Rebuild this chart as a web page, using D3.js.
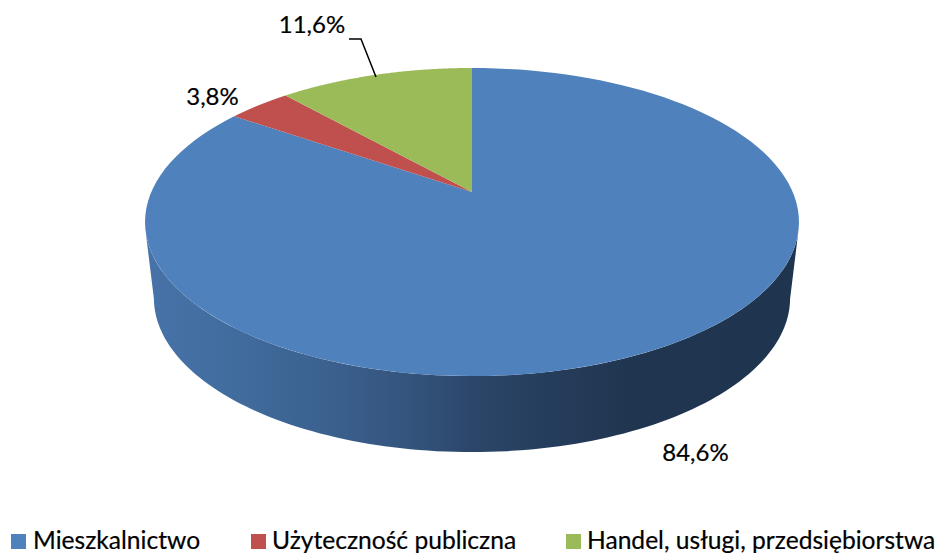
<!DOCTYPE html>
<html><head><meta charset="utf-8">
<script src="https://cdnjs.cloudflare.com/ajax/libs/d3/7.9.0/d3.min.js"></script>
<style>html,body{margin:0;padding:0;background:#fff;overflow:hidden}svg{display:block}text{font-family:Lato,"Noto Sans",sans-serif;fill:#000;stroke:#000;stroke-width:.2}</style>
</head><body><svg id="c" width="938" height="553"></svg>
<script>
const categories = ["Mieszkalnictwo", "Użyteczność publiczna", "Handel, usługi, przedsiębiorstwa"];
const values = [84.6, 3.8, 11.6];
const valueLabels = ["84,6%", "3,8%", "11,6%"];
const colors = ["#4f81bd", "#c0504d", "#9bbb59"];

const svg = d3.select("#c");
const color = d3.scaleOrdinal(categories, colors);
const pie = d3.pie().sort(null).value(d => d.v)(categories.map((c, i) => ({c, v: values[i], l: valueLabels[i]})));

// perspective projection of the pie's unit circle onto the screen
const P = 0.195;
const project = (cx, cy, A, B) => t => {
  const u = Math.sin(t), v = Math.cos(t), w = 1 + P * v;
  return [cx + A * u / w, cy - B * v / w];
};
const top3d = project(472, 192, 320.7, 148.2);
const base3d = project(472, 268, 312, 148.2);
const line = d3.line();
const sweep = (f, a, b) => d3.range(0, 121).map(i => f(a + (b - a) * i / 120));

// side wall
const grad = svg.append("defs").append("linearGradient").attr("id", "side")
  .attr("gradientUnits", "userSpaceOnUse").attr("x1", 145).attr("x2", 799).attr("y1", 0).attr("y2", 0);
[[0, "#4773a9"], [0.15, "#406b9c"], [0.3, "#3a5f8c"], [0.42, "#33527a"], [0.5, "#2c4669"], [0.62, "#253d5c"], [0.75, "#20354f"], [1, "#1f344e"]]
  .forEach(([o, c]) => grad.append("stop").attr("offset", o).attr("stop-color", c));
const tL = Math.PI * 1.5 - 0.25, tR = Math.PI / 2 + 0.25;
const tLb = Math.PI * 1.5 - 0.2, tRb = Math.PI / 2 + 0.2;
const wall = sweep(top3d, tL, tR).concat(sweep(base3d, tRb, tLb));
svg.append("path").attr("d", line(wall) + "Z").attr("fill", "url(#side)");

// top face
svg.append("g").selectAll("path").data(pie).join("path")
  .attr("d", d => line([[472, 192]].concat(sweep(top3d, d.startAngle, d.endAngle))) + "Z")
  .attr("fill", d => color(d.data.c));

// data labels
const labelPos = [[695.5, 461], [212.5, 105], [312, 33]];
svg.append("g").selectAll("text").data(pie).join("text")
  .attr("x", (d, i) => labelPos[i][0]).attr("y", (d, i) => labelPos[i][1])
  .attr("text-anchor", "middle").attr("font-size", 24).text(d => d.data.l);
svg.append("path").attr("d", "M349,39H361L376,77").attr("fill", "none").attr("stroke", "#000").attr("stroke-width", 1.5);

// legend
const legendX = [11, 251, 566];
const legendT = [33, 272, 587];
const lg = svg.append("g");
categories.forEach((c, i) => {
  lg.append("rect").attr("x", legendX[i]).attr("y", 534).attr("width", 15).attr("height", 15).attr("fill", color(c));
  lg.append("text").attr("x", legendT[i]).attr("y", 549).attr("font-size", 24.6).text(c);
});
</script></body></html>
